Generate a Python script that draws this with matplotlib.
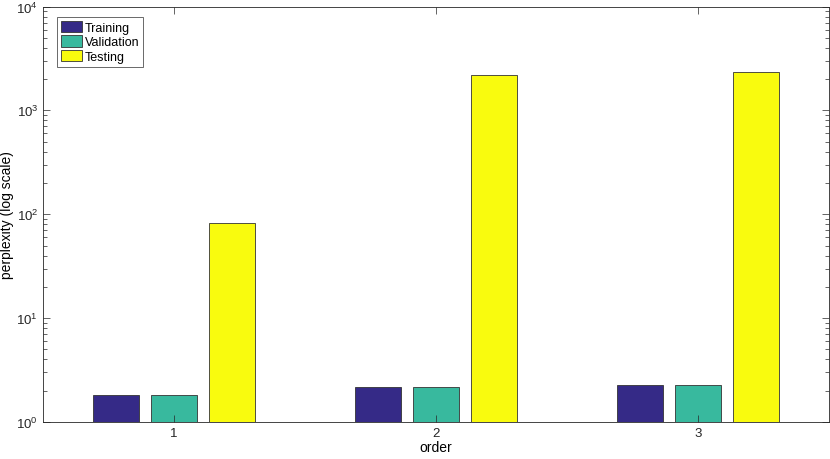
import matplotlib
matplotlib.use("Agg")
import matplotlib.pyplot as plt
import numpy as np

orders = [1, 2, 3]
series_names = ["Training", "Validation", "Testing"]
training = [1.82, 2.19, 2.25]
validation = [1.83, 2.19, 2.27]
testing = [83, 2204, 2340]
colors = ["#352A87", "#38B99E", "#F9FB0E"]

plt.rcParams['font.family'] = ['Liberation Sans', 'DejaVu Sans']
fig = plt.figure(figsize=(8.3, 4.6), dpi=100)
ax = fig.add_axes([43/830, 1-423/460, (829-43)/830, (423-7.5)/460])

x = np.array(orders, dtype=float)
w = 0.176
offs = [-0.222, 0.0, 0.222]
for vals, name, c, o in zip([training, validation, testing], series_names, colors, offs):
    ax.bar(x + o, vals, width=w, color=c, edgecolor="#333333", linewidth=0.6, label=name, bottom=0)

ax.set_yscale("log")
ax.set_ylim(1, 1e4)
ax.set_xlim(0.5, 3.5)
ax.set_xticks(orders)
ax.set_xticklabels([str(o) for o in orders])
ax.set_xlabel("order", fontsize=10, labelpad=1)
ax.set_ylabel("perplexity (log scale)", fontsize=10, labelpad=2)
ax.tick_params(axis="both", which="both", direction="in", top=True, right=True, labelsize=9.5, colors="#262626")
ax.tick_params(axis="both", which="major", length=5, width=0.5)
ax.tick_params(axis="y", which="minor", length=3, width=0.5)
ax.tick_params(axis="x", which="minor", bottom=False, top=False)
for s in ax.spines.values():
    s.set_color("#262626")
    s.set_linewidth(0.6)

leg = ax.legend(loc="upper left", bbox_to_anchor=(0.018, 0.975), fontsize=9, frameon=True,
                fancybox=False, edgecolor="#262626", handlelength=1.7, handleheight=1.0,
                handletextpad=0.2, borderpad=0.3, labelspacing=0.15, borderaxespad=0)
leg.get_frame().set_linewidth(0.6)

fig.savefig("out.png", dpi=100)
